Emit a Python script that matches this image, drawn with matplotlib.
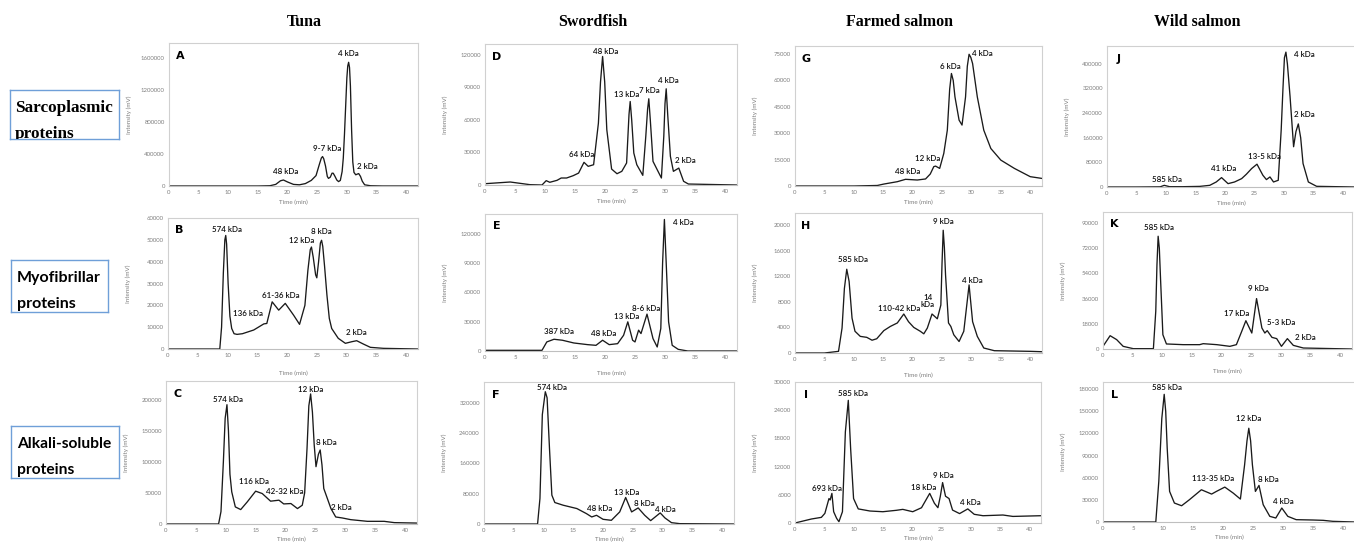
import numpy as np
import matplotlib
matplotlib.use('Agg')
import matplotlib.pyplot as plt
from matplotlib.ticker import FormatStrFormatter

plt.rcParams['font.family'] = ['Lato', 'DejaVu Sans']

# ---------- kolom- en rijtitels ----------
columns = ['Tuna', 'Swordfish', 'Farmed salmon', 'Wild salmon']
rows = [('Sarcoplasmic', 'proteins'), ('Myofibrillar', 'proteins'), ('Alkali-soluble', 'proteins')]

# ---------- chromatogrammen: tijd (min) en intensiteit (mV) ----------
# Tuna - sarcoplasmic (A)
tA = [0, 5, 10, 15, 17, 18, 18.8, 19.3, 20, 21, 22, 23, 24, 24.8, 25.4, 25.7, 25.9, 26.1, 26.4, 26.7,
      26.9, 27.2, 27.5, 27.7, 28.0, 28.3, 28.6, 28.9, 29.2, 29.4, 29.6, 29.8, 30.0, 30.15, 30.3, 30.45,
      30.6, 30.8, 31.0, 31.2, 31.5, 31.8, 32.0, 32.3, 32.6, 33.0, 34, 36, 42]
vA = [0, 0, 0, 0, 3000, 20000, 65000, 75000, 50000, 20000, 15000, 30000, 70000, 130000, 280000, 350000,
      368000, 340000, 250000, 120000, 95000, 110000, 160000, 160000, 120000, 75000, 55000, 70000,
      180000, 350000, 650000, 1000000, 1350000, 1500000, 1546000, 1480000, 1250000, 700000, 300000,
      170000, 140000, 150000, 155000, 120000, 60000, 15000, 3000, 0, 0]
# Tuna - myofibrillar (B)
tB = [0, 5, 8.7, 9.0, 9.3, 9.55, 9.7, 9.85, 10.1, 10.4, 10.7, 11.1, 11.6, 12.5, 14.4, 16.1, 16.6, 17.5,
      18.6, 19.7, 21.1, 22.1, 23.0, 23.5, 23.9, 24.1, 24.4, 24.8, 25.0, 25.3, 25.6, 25.8, 26.0, 26.3,
      26.7, 27.1, 27.5, 28.6, 29.8, 30.9, 31.7, 32.8, 34, 36.2, 42]
vB = [0, 0, 0, 10000, 35000, 50000, 52000, 48000, 30000, 15000, 9400, 7000, 6700, 7000, 8700, 11500,
      11700, 21600, 17800, 20900, 15500, 11300, 20000, 36000, 45500, 46700, 42000, 34000, 32600, 40000,
      48500, 49800, 47000, 38000, 24700, 14000, 9400, 4900, 2600, 3350, 3800, 2300, 760, 300, 0]
# Tuna - alkali-soluble (C)
tC = [0, 5, 8.8, 9.2, 9.6, 9.9, 10.2, 10.45, 10.7, 11.0, 11.6, 12.5, 13.6, 15.0, 16.1, 17.5, 18.9, 19.7,
      20.9, 22.0, 22.8, 23.2, 23.6, 23.9, 24.2, 24.5, 24.8, 25.1, 25.5, 25.8, 26.1, 26.4, 26.9, 27.6,
      28.4, 29.5, 30.9, 33.7, 36.5, 38.2, 42]
vC = [0, 0, 0, 20000, 100000, 170000, 191900, 150000, 80000, 51700, 27500, 23200, 35600, 52800, 49000,
      36700, 38300, 32300, 32900, 24800, 30200, 50000, 121800, 190000, 209200, 180000, 127200, 92200,
      112000, 119100, 95000, 57100, 43700, 24800, 11300, 9700, 7000, 4300, 4300, 2200, 1500]
# Swordfish - sarcoplasmic (D)
tD = [0, 4.2, 7.5, 9.5, 10.2, 10.8, 12.0, 12.7, 13.6, 14.7, 15.6, 16.5, 17.2, 18.1, 18.9, 19.25, 19.6,
      19.95, 20.3, 21.1, 22.0, 22.8, 23.6, 24.0, 24.2, 24.45, 24.8, 25.3, 26.3, 26.8, 27.1, 27.3, 27.55,
      28.0, 28.7, 29.4, 29.8, 30.0, 30.2, 30.45, 30.9, 31.4, 32.3, 33.1, 33.9, 42]
vD = [1200, 2760, 300, 0, 4000, 2500, 4300, 6450, 6450, 8600, 11000, 20900, 17200, 18700, 57000, 95000,
      118500, 95000, 51000, 14700, 10400, 12600, 20300, 65000, 77000, 60000, 29500, 18700, 8900, 45000,
      70000, 79500, 60000, 21800, 14100, 6450, 45000, 75000, 88700, 65000, 26400, 12600, 15600, 3400,
      900, 0]
# Swordfish - myofibrillar (E)
tE = [0, 5, 9.5, 10.3, 11.5, 12.9, 14.8, 17.1, 18.5, 19.6, 20.7, 22.1, 23.1, 23.8, 24.6, 25.0, 25.6,
      26.0, 27.0, 28.0, 28.7, 29.3, 29.6, 29.9, 30.2, 30.6, 31.2, 32.2, 33.8, 42]
vE = [700, 700, 700, 9260, 12000, 11000, 8200, 6500, 5800, 11000, 6500, 7500, 16100, 29800, 11000, 9260,
      21300, 17800, 37700, 12700, 4100, 23000, 90000, 134400, 90000, 29800, 5800, 1700, 0, 0]
# Swordfish - alkali-soluble (F)
tF = [0, 5, 9.0, 9.4, 9.8, 10.3, 10.6, 11.0, 11.4, 11.9, 13.3, 15.6, 17.2, 18.1, 18.9, 20.0, 21.4, 22.8,
      23.8, 24.8, 25.9, 27.0, 28.0, 29.6, 30.4, 31.5, 32.9, 42]
vF = [0, 0, 0, 67400, 289000, 349300, 333300, 200300, 76200, 56700, 49600, 40800, 27500, 18600, 23000,
      12400, 9750, 31900, 70000, 31900, 42500, 23000, 8900, 29300, 16000, 3500, 900, 0]
# Farmed salmon - sarcoplasmic (G)
tG = [0, 5, 10, 14, 15.1, 17.4, 18.8, 20.8, 22.2, 23.0, 23.6, 23.9, 24.6, 25.3, 25.9, 26.3, 26.6, 26.9,
      27.2, 27.9, 28.4, 29.0, 29.3, 29.6, 29.9, 30.2, 31.0, 32.1, 33.3, 35.0, 37.3, 40, 42]
vG = [0, 0, 0, 300, 1100, 2450, 3800, 3400, 4000, 6800, 11000, 11300, 10000, 18500, 31700, 55000, 63900,
      60000, 50600, 37400, 34600, 50600, 68000, 74800, 73000, 69500, 50600, 31700, 21300, 14700, 10000,
      5300, 4300]
# Farmed salmon - myofibrillar (H)
tH = [0, 5, 7.4, 8.0, 8.4, 8.8, 9.2, 9.7, 10.2, 11.1, 12.2, 13.1, 13.9, 15.1, 16.2, 17.4, 18.5, 19.3,
      20.2, 21.3, 21.9, 22.5, 23.3, 24.2, 24.8, 25.0, 25.2, 25.4, 25.6, 26.1, 26.5, 27.0, 27.9, 28.7,
      29.6, 30.2, 31.0, 32.1, 33.9, 40, 42]
vH = [0, 0, 260, 3900, 10100, 13100, 11200, 5450, 3400, 2600, 2450, 2000, 2230, 3500, 4150, 4700, 6100,
      4900, 4000, 3400, 3000, 3900, 6100, 5350, 7500, 14000, 19200, 16500, 12200, 4700, 4150, 2850, 1800,
      3400, 10650, 4900, 2600, 780, 360, 260, 200]
# Farmed salmon - alkali-soluble (I)
tI = [0, 2.8, 4.5, 5.1, 5.8, 6.0, 6.3, 6.6, 7.1, 7.5, 8.1, 8.6, 9.1, 9.5, 10.0, 10.8, 12.8, 15.0, 17.3,
      18.4, 20.1, 21.6, 23.0, 23.8, 24.4, 24.8, 25.2, 25.7, 26.3, 26.9, 28.1, 29.5, 30.6, 32.1, 35.5,
      37.2, 42]
vI = [0, 850, 1200, 2050, 5200, 4900, 6300, 2400, 1000, 280, 2400, 19400, 26100, 15800, 5200, 3000, 2550,
      2400, 2700, 2900, 2400, 3250, 6300, 4200, 3250, 5600, 8600, 5700, 5200, 2750, 2000, 3000, 1850,
      1550, 1700, 1400, 1550]
# Wild salmon - sarcoplasmic (J)
tJ = [0, 5, 9.0, 9.7, 10.6, 12.9, 15.7, 17.4, 18.5, 19.4, 20.5, 21.6, 22.8, 23.6, 24.5, 25.4, 26.4, 27.0,
      27.6, 28.2, 29.0, 29.5, 29.8, 30.05, 30.3, 30.55, 31.0, 31.6, 32.0, 32.4, 32.8, 33.2, 34.1, 35.5, 42]
vJ = [0, 0, 500, 5400, 1000, 1000, 2000, 5400, 16300, 30500, 10900, 16300, 27200, 41400, 60000, 74100,
      38100, 24000, 32700, 16300, 21800, 185300, 320000, 420000, 438100, 400000, 294300, 130800, 180000,
      204900, 160000, 76300, 16300, 2200, 0]
# Wild salmon - myofibrillar (K)
tK = [0, 1.2, 2.3, 3.4, 5.1, 8.5, 8.9, 9.1, 9.3, 9.5, 9.7, 10.1, 10.7, 13.5, 16.3, 16.9, 19.2, 21.4, 22.5,
      23.4, 24.1, 25.1, 25.9, 26.8, 27.3, 27.7, 28.5, 29.3, 30.1, 31.1, 32.1, 33.8, 42]
vK = [1900, 9500, 6700, 1900, 240, 240, 26900, 60000, 80500, 72000, 50700, 10200, 3600, 3100, 3100,
      3800, 3100, 1900, 3100, 12600, 20200, 11400, 36000, 15000, 11400, 13100, 8300, 7400, 1900, 7400,
      2600, 700, 0]
# Wild salmon - alkali-soluble (L)
tL = [0, 5, 8.8, 9.3, 9.8, 10.2, 10.45, 10.7, 11.1, 11.9, 13.1, 14.4, 16.4, 18.1, 18.9, 20.3, 21.7, 22.9,
      23.6, 24.0, 24.3, 24.6, 24.9, 25.4, 26.0, 26.7, 27.8, 28.8, 29.8, 30.8, 32.2, 35.0, 36.7, 38.3, 42]
vL = [0, 0, 0, 54900, 140000, 172800, 150000, 99900, 41400, 25650, 22000, 30150, 43650, 37800, 41400,
      47250, 39150, 31050, 77400, 110000, 126900, 110000, 77400, 41400, 49500, 23400, 7650, 5400, 18900,
      7650, 3150, 2700, 2250, 900, 0]

# ---------- piek-labels (tekst, tijd, intensiteit) ----------
labA = [('48 kDa', 19.7, 180000), ('9-7 kDa', 26.6, 472000), ('4 kDa', 30.3, 1654000), ('2 kDa', 33.4, 242000)]
labB = [('574 kDa', 9.9, 54700), ('136 kDa', 13.4, 16450), ('61-36 kDa', 19.0, 24700),
        ('12 kDa', 22.5, 49500), ('8 kDa', 25.8, 53600), ('2 kDa', 31.7, 7460)]
labC = [('574 kDa', 10.4, 201000), ('116 kDa', 14.7, 69000), ('42-32 kDa', 19.9, 51750),
        ('12 kDa', 24.2, 217000), ('8 kDa', 26.9, 131000), ('2 kDa', 29.3, 25900)]
labD = [('64 kDa', 16.1, 28500), ('48 kDa', 20.1, 123000), ('13 kDa', 23.6, 83200), ('7 kDa', 27.4, 87200),
        ('4 kDa', 30.6, 96400), ('2 kDa', 33.4, 22400)]
labE = [('387 kDa', 12.4, 19500), ('48 kDa', 19.75, 17800), ('13 kDa', 23.6, 35000),
        ('8-6 kDa', 26.9, 43500), ('4 kDa', 33.0, 131000)]
labF = [('574 kDa', 11.5, 361700), ('48 kDa', 19.5, 40800), ('13 kDa', 23.9, 83300),
        ('8 kDa', 26.9, 55000), ('4 kDa', 30.5, 39000)]
labG = [('48 kDa', 19.2, 8100), ('12 kDa', 22.6, 15700), ('6 kDa', 26.5, 68000), ('4 kDa', 31.9, 75200)]
labH = [('585 kDa', 9.8, 14700), ('110-42 kDa', 17.7, 6900), ('14\nkDa', 22.6, 8150),
        ('9 kDa', 25.2, 20600), ('4 kDa', 30.1, 11300)]
labI = [('693 kDa', 5.5, 7360), ('585 kDa', 9.9, 27450), ('18 kDa', 22.0, 7570),
        ('9 kDa', 25.4, 10200), ('4 kDa', 29.9, 4300)]
labJ = [('585 kDa', 10.2, 25000), ('41 kDa', 19.7, 60000), ('13-5 kDa', 26.6, 98100),
        ('4 kDa', 33.5, 430500), ('2 kDa', 33.5, 235400)]
labK = [('585 kDa', 9.4, 86900), ('17 kDa', 22.5, 25000), ('9 kDa', 26.2, 42900),
        ('5-3 kDa', 30.0, 18600), ('2 kDa', 34.1, 7860)]
labL = [('585 kDa', 10.7, 181800), ('113-35 kDa', 18.3, 59400), ('12 kDa', 24.3, 140400),
        ('8 kDa', 27.6, 57150), ('4 kDa', 30.0, 27900)]

# ---------- figuur ----------
W, H = 1354, 542
fig = plt.figure(figsize=(W / 100, H / 100), dpi=100)
fig.patch.set_facecolor('white')

def px_axes(left, right, top, bottom):
    return fig.add_axes([left / W, 1 - bottom / H, (right - left) / W, (bottom - top) / H])

# panelen: (letter, t, v, labels, ymax, ystep, frame in pixels (links, rechts, boven, onder), xlabel-afstand)
panels = [
    ('A', tA, vA, labA, 1787000, 400000, (169, 418, 43, 186), 14),
    ('B', tB, vB, labB, 60000, 10000, (168, 418, 218, 349), 22),
    ('C', tC, vC, labC, 230000, 50000, (166, 417, 381, 524), 13),
    ('D', tD, vD, labD, 130000, 30000, (485, 737, 44, 185), 14),
    ('E', tE, vE, labE, 140000, 30000, (485, 737, 214, 351), 20),
    ('F', tF, vF, labF, 375000, 80000, (484, 734, 382, 524), 13),
    ('G', tG, vG, labG, 79500, 15000, (795, 1042, 46, 186), 14),
    ('H', tH, vH, labH, 21900, 4000, (795, 1042, 213, 353), 20),
    ('I', tI, vI, labI, 30000, 6000, (795, 1041, 382, 523), 13),
    ('J', tJ, vJ, labJ, 458000, 80000, (1107, 1355, 46, 187), 14),
    ('K', tK, vK, labK, 97800, 18000, (1103, 1352, 212, 349), 20),
    ('L', tL, vL, labL, 189500, 30000, (1103, 1355, 382, 522), 13),
]

for letter, t, v, labels, ymax, ystep, frame, xlab_gap in panels:
    ax = px_axes(*frame)
    wpx = frame[1] - frame[0]
    hpx = frame[3] - frame[2]
    ax.plot(t, v, color='#1a1a1a', lw=0.95)
    ax.set_xlim(0, 42)
    ax.set_ylim(0, ymax)
    ax.set_xticks(range(0, 41, 5))
    ax.set_yticks(np.arange(0, ymax + 1, ystep))
    ax.yaxis.set_major_formatter(FormatStrFormatter('%d'))
    ax.tick_params(length=0, labelsize=4.3, labelcolor='#7f7f7f', pad=3)
    for s in ax.spines.values():
        s.set_color('#d0d0d0')
        s.set_linewidth(0.8)
    ax.spines['bottom'].set_color('#bfbfbf')
    ax.set_ylabel('Intensity (mV)', fontsize=4.5, color='#7f7f7f')
    ax.yaxis.set_label_coords(-37 / wpx, 0.5)
    ax.set_xlabel('Time (min)', fontsize=4.5, color='#7f7f7f')
    ax.xaxis.set_label_coords(0.5, -xlab_gap / hpx)
    ax.text(0.045, 0.91, letter, transform=ax.transAxes, ha='center', va='center',
            fontsize=8, fontweight='bold', family=['DejaVu Sans'])
    for txt, x, y in labels:
        ax.text(x, y, txt, ha='center', va='center', fontsize=5.8, fontweight='semibold',
                color='#111111', linespacing=1.1)

# Kolomtitels
col_x = [304, 593, 900, 1197]
for name, x in zip(columns, col_x):
    fig.text(x / W, 1 - 22 / H, name, ha='center', va='center', fontsize=11.5,
             fontweight='bold', family=['Liberation Serif'])

# Rijlabels in blauwe kaders (tweede regel valt deels buiten het kader)
boxes = [(10, 119, 90, 139, 0.045, 0.557, 0.02, ['Liberation Serif'], 12.3),
         (11, 108, 260, 312, 0.058, 0.571, 0.077, ['Lato'], 11.5),
         (11, 119, 426, 478, 0.053, 0.571, 0.077, ['Lato'], 11.2)]
for (line1, line2), (l, r, top, b, tx, ty1, ty2, fam, fs) in zip(rows, boxes):
    bx = px_axes(l, r, top, b)
    bx.set_xticks([])
    bx.set_yticks([])
    for s in bx.spines.values():
        s.set_color('#6f9fd8')
        s.set_linewidth(1.0)
    bx.text(tx, ty1, line1, transform=bx.transAxes, ha='left', va='baseline', fontsize=fs,
            fontweight='bold', family=fam, clip_on=True)
    bx.text(tx, ty2, line2, transform=bx.transAxes, ha='left', va='baseline', fontsize=fs,
            fontweight='bold', family=fam, clip_on=True)

fig.savefig('out.png', dpi=100)
